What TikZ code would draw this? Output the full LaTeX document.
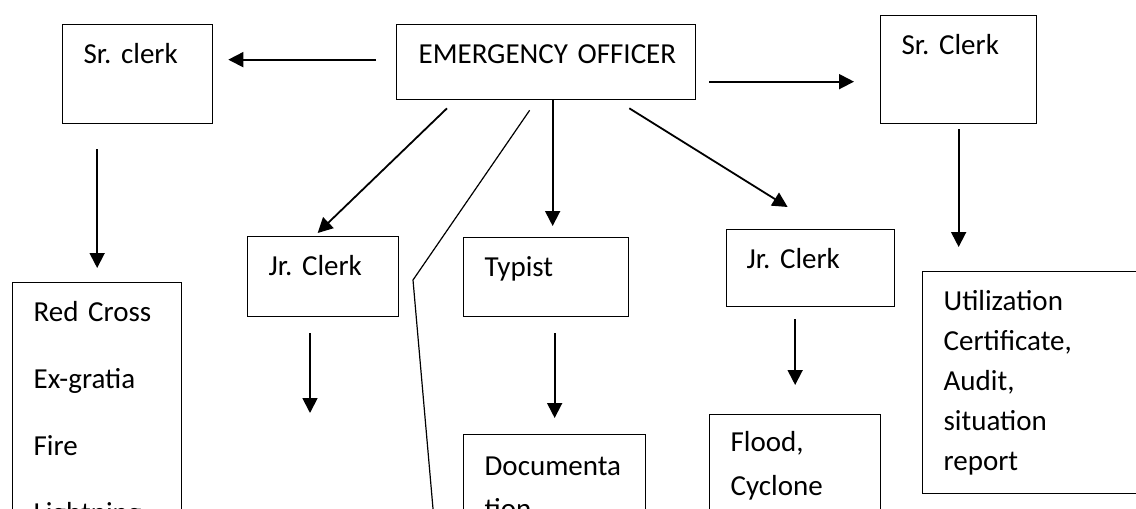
\documentclass[tikz,border=0pt]{standalone}
\usepackage{fontspec}
\setmainfont{Carlito}
\usepackage{tikz}
\usetikzlibrary{arrows.meta,positioning,calc}
\frenchspacing

\begin{document}
\begin{tikzpicture}[x=1pt, y=-1pt,
    every node/.style={font=\fontsize{29pt}{35pt}\selectfont},
    box/.style={draw, line width=1.3pt, anchor=north west, inner xsep=21pt, inner ysep=0pt,
                align=left, text height=39pt},
    arr/.style={line width=1.8pt, -{Triangle[length=15pt,width=15pt]}},
    thin/.style={line width=1.2pt}]
    \useasboundingbox (0,0) rectangle (1136,509);
    \clip (0,0) rectangle (1136,509);

    % top row
    \node[box, inner xsep=22pt, text width=255pt, text depth=36pt] (eo) at (396,24) {\mbox{EMERGENCY OFFICER}};
    \node[box, text width=108pt, text depth=60pt] (srl) at (62,24) {Sr. clerk};
    \node[box, text width=114pt, text depth=69pt] (src) at (880,15) {Sr. Clerk};

    % second row
    \node[box, text width=109pt, text depth=41pt] (jrl) at (247,236) {Jr. Clerk};
    \node[box, text width=123pt, text depth=40pt] (typ) at (463,237) {Typist};
    \node[box, inner xsep=20pt, text width=128pt, text depth=38pt] (jrr) at (726,229) {Jr. Clerk};

    % bottom row
    \node[box, text width=127pt, text depth=201pt] (redx) at (12,282)
        {Red Cross\\[32pt]Ex-gratia\\[32pt]Fire\\[32pt]Lightning};
    \node[box, text width=140pt, text depth=61pt, text height=41pt] (doc) at (463,434)
        {Documenta\\[8pt]tion};
    \node[box, text width=129pt, text depth=72pt, text height=37pt] (flood) at (709,414)
        {Flood,\\[9pt]Cyclone};
    \node[box, text width=178pt, text depth=183pt] (util) at (922,271)
        {Utilization\\[5pt]Certificate,\\[5pt]Audit,\\[5pt]situation\\[5pt]report};

    \coordinate (eow) at ([yshift=2.5pt]eo.west);
    \coordinate (eoe) at ([yshift=-19.5pt]eo.east);
    \coordinate (kink) at (413,280);
    \coordinate (tail) at (434,520);
    \coordinate (jrlend) at (310,413);

    \draw[arr, shorten <=20pt, shorten >=15pt] (eow) -- (eow -| srl.east);
    \draw[arr, shorten <=13pt, shorten >=26pt] (eoe) -- (eoe -| src.west);
    \draw[arr, shorten <=5pt, shorten >=24pt] (src.south) -- (src.south |- util.north);
    \draw[arr, shorten <=25pt, shorten >=14pt] (redx.north |- srl.south) -- (redx.north);
    \draw[arr] ([xshift=51pt,yshift=-8pt]eo.south west) -- ([xshift=-5.5pt,yshift=3pt]jrl.north);
    \draw[thin] ([xshift=-16.5pt,yshift=-10pt]eo.south) -- (kink) -- (tail);
    \draw[arr, shorten >=11pt] ([xshift=6.5pt]eo.south) -- ([xshift=6.5pt]typ.north);
    \draw[arr, shorten <=16pt, shorten >=16pt] (doc.north |- typ.south) -- (doc.north);
    \draw[arr] ([xshift=-67pt,yshift=-8pt]eo.south east) -- ([xshift=-23pt,yshift=22pt]jrr.north);
    \draw[arr, shorten <=12pt, shorten >=29pt] (flood.north |- jrr.south) -- (flood.north);
    \draw[arr, shorten <=16pt] (jrl.south -| jrlend) -- (jrlend);
\end{tikzpicture}
\end{document}
